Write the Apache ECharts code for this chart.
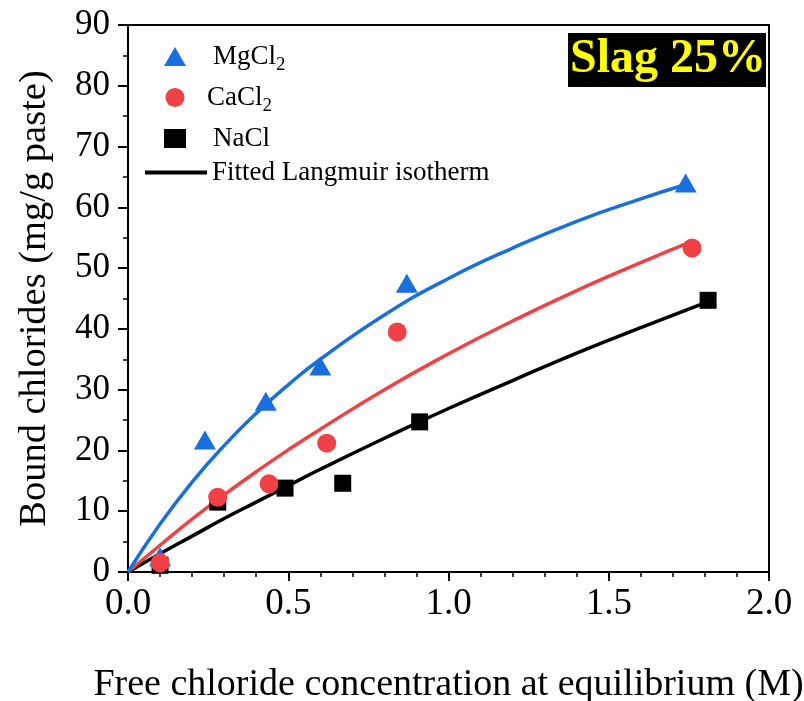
<!DOCTYPE html>
<html>
<head>
<meta charset="utf-8">
<script src="https://cdn.jsdelivr.net/npm/echarts@6/dist/echarts.min.js"></script>
<style>
  html, body { margin: 0; padding: 0; background: #fff; }
  #chart { width: 804px; height: 701px; }
</style>
</head>
<body>
<div id="chart"></div>
<script>
// Measured bound chlorides (mg/g paste) vs free chloride at equilibrium (M)
const mgcl2Points = [[0.10, 2.5], [0.24, 21.7], [0.43, 28.1], [0.60, 33.9], [0.87, 47.5], [1.74, 64.0]];
const cacl2Points = [[0.10, 1.5], [0.28, 12.3], [0.44, 14.5], [0.62, 21.2], [0.84, 39.5], [1.76, 53.3]];
const naclPoints  = [[0.10, 1.1], [0.28, 11.5], [0.49, 13.8], [0.67, 14.6], [0.91, 24.7], [1.81, 44.7]];

// Fitted Langmuir isotherm curves, sampled along each fit
const mgcl2Fit = [[0, 0], [0.1, 7.9], [0.2, 14.8], [0.3, 20.8], [0.4, 26.1], [0.5, 30.8], [0.6, 35.0],
                  [0.8, 42.3], [1.0, 48.3], [1.2, 53.3], [1.4, 57.7], [1.6, 61.4], [1.73, 63.6]];
const cacl2Fit = [[0, 0], [0.1, 4.4], [0.2, 8.7], [0.3, 12.7], [0.4, 16.5], [0.5, 20.1], [0.6, 23.5],
                  [0.8, 30.0], [1.0, 35.9], [1.2, 41.3], [1.4, 46.3], [1.6, 50.9], [1.756, 54.3]];
const naclFit  = [[0, 0], [0.1, 3.0], [0.2, 5.9], [0.3, 8.8], [0.4, 11.5], [0.5, 14.2], [0.6, 16.9],
                  [0.8, 22.0], [1.0, 26.9], [1.2, 31.5], [1.4, 36.0], [1.6, 40.2], [1.81, 44.5]];

const xTicks = { min: 0, max: 2, interval: 0.5 };
const yTicks = { min: 0, max: 90, interval: 10 };

const BLUE = '#1a6fdf';
const RED = '#ef4146';
const BLACK = '#000000';
const SERIF = "'Liberation Serif', 'Times New Roman', serif";

const chart = echarts.init(document.getElementById('chart'), null, { renderer: 'canvas' });

const axisLine = { show: true, onZero: false, lineStyle: { color: '#000', width: 2 } };

const option = {
  backgroundColor: '#fff',
  animation: false,
  title: {
    text: 'Slag 25%',
    left: 568,
    top: 33,
    backgroundColor: '#000',
    padding: [2, 0, 2, 2],
    textStyle: { color: '#ffff00', fontSize: 48, fontWeight: 'bold', fontFamily: SERIF, lineHeight: 50 }
  },
  grid: { left: 128, right: 35, top: 25, bottom: 129, containLabel: false, outerBoundsMode: 'none' },
  legend: [
    {
      orient: 'vertical',
      left: 164,
      top: 43,
      padding: 0,
      itemWidth: 22,
      itemHeight: 19,
      itemGap: 9.5,
      data: ['MgCl2', 'CaCl2', 'NaCl'],
      formatter: function (name) {
        if (name === 'MgCl2') return '{p|MgCl}{s|2}';
        if (name === 'CaCl2') return '{q|CaCl}{s|2}';
        return '{p|NaCl}';
      },
      textStyle: {
        fontFamily: SERIF, fontSize: 27, color: '#000',
        rich: {
          p: { fontFamily: SERIF, fontSize: 27, color: '#000', lineHeight: 41, padding: [0, 0, 0, 22] },
          q: { fontFamily: SERIF, fontSize: 27, color: '#000', lineHeight: 41, padding: [0, 0, 0, 16] },
          s: { fontFamily: SERIF, fontSize: 19, color: '#000', padding: [17, 0, 0, 0] }
        }
      }
    },
    {
      orient: 'vertical',
      left: 145,
      top: 159,
      padding: 0,
      itemWidth: 62,
      itemHeight: 4,
      data: [{ name: 'Fitted Langmuir isotherm', icon: 'rect', itemStyle: { color: BLACK } }],
      textStyle: { fontFamily: SERIF, fontSize: 27, color: '#000' }
    }
  ],
  xAxis: [
    {
      type: 'value',
      min: xTicks.min, max: xTicks.max, interval: xTicks.interval,
      name: 'Free chloride concentration at equilibrium (M)',
      nameLocation: 'middle',
      nameGap: 94,
      nameTextStyle: { fontFamily: SERIF, fontSize: 38, color: '#000' },
      axisLine: axisLine,
      axisTick: { show: true, inside: false, length: 9, lineStyle: { color: '#000', width: 2 } },
      minorTick: { show: true, splitNumber: 5, length: 5, lineStyle: { color: '#000', width: 1.5 } },
      axisLabel: {
        fontFamily: SERIF, fontSize: 37, color: '#000', margin: 14,
        formatter: function (v) { return v.toFixed(1); }
      },
      splitLine: { show: false }
    },
    {
      type: 'value', position: 'top',
      min: xTicks.min, max: xTicks.max,
      axisLine: axisLine, axisTick: { show: false }, axisLabel: { show: false }, splitLine: { show: false }
    }
  ],
  yAxis: [
    {
      type: 'value',
      min: yTicks.min, max: yTicks.max, interval: yTicks.interval,
      name: 'Bound chlorides (mg/g paste)',
      nameLocation: 'middle',
      nameGap: 74,
      nameTextStyle: { fontFamily: SERIF, fontSize: 38.5, color: '#000' },
      axisLine: axisLine,
      axisTick: { show: true, inside: false, length: 10, lineStyle: { color: '#000', width: 2 } },
      minorTick: { show: true, splitNumber: 2, length: 5, lineStyle: { color: '#000', width: 1.5 } },
      axisLabel: { fontFamily: SERIF, fontSize: 35, color: '#000', margin: 18 },
      splitLine: { show: false }
    },
    {
      type: 'value', position: 'right',
      min: yTicks.min, max: yTicks.max,
      axisLine: axisLine, axisTick: { show: false }, axisLabel: { show: false }, splitLine: { show: false }
    }
  ],
  series: [
    {
      name: 'Fitted Langmuir isotherm', type: 'line', data: naclFit, smooth: true, showSymbol: false,
      lineStyle: { color: BLACK, width: 3.5 }, itemStyle: { color: BLACK }, z: 2
    },
    {
      name: 'Fitted Langmuir isotherm', type: 'line', data: cacl2Fit, smooth: true, showSymbol: false,
      lineStyle: { color: RED, width: 3.5 }, itemStyle: { color: RED }, z: 2
    },
    {
      name: 'Fitted Langmuir isotherm', type: 'line', data: mgcl2Fit, smooth: true, showSymbol: false,
      lineStyle: { color: BLUE, width: 3.5 }, itemStyle: { color: BLUE }, z: 2
    },
    {
      name: 'NaCl', type: 'scatter', data: naclPoints, symbol: 'rect', symbolSize: 17,
      itemStyle: { color: BLACK, opacity: 1 }, z: 3
    },
    {
      name: 'MgCl2', type: 'scatter', data: mgcl2Points, symbol: 'triangle', symbolSize: [22, 19],
      itemStyle: { color: BLUE, opacity: 1 }, z: 4
    },
    {
      name: 'CaCl2', type: 'scatter', data: cacl2Points, symbol: 'circle', symbolSize: 19,
      itemStyle: { color: RED, opacity: 1 }, z: 5
    }
  ]
};

chart.setOption(option);
</script>
</body>
</html>
